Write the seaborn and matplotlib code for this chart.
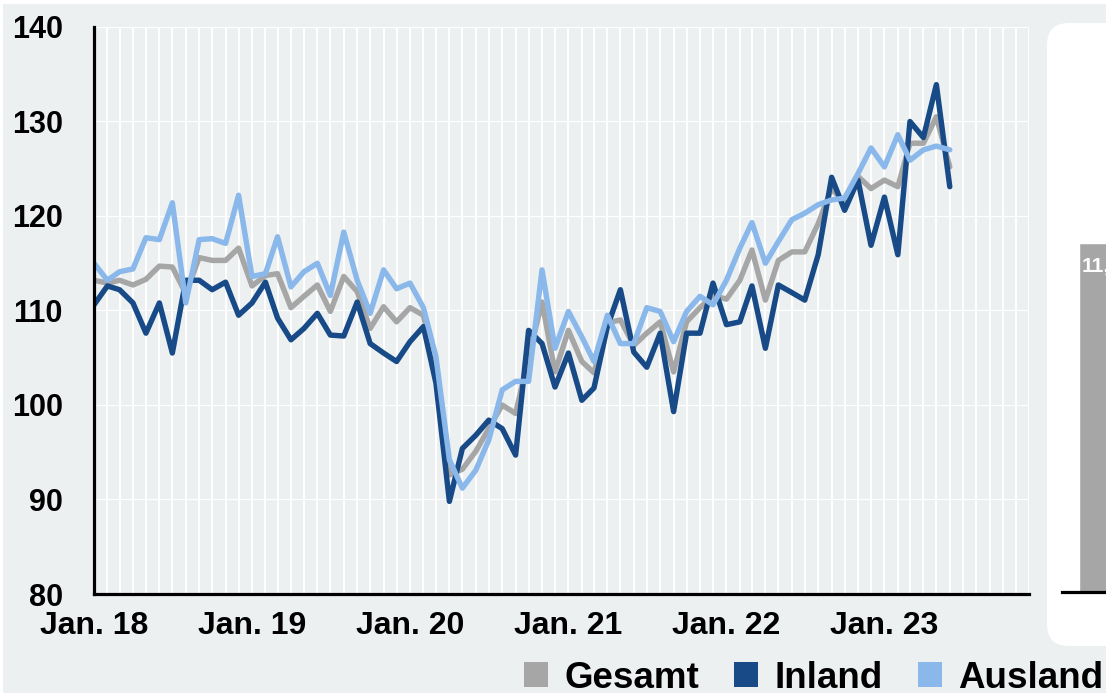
import numpy as np
import pandas as pd
import seaborn as sns
from matplotlib import pyplot as plt
from matplotlib.patches import Patch, FancyBboxPatch, Rectangle
import matplotlib.dates as mdates

# monthly index values, Jan 2018 - Jun 2023
months = pd.date_range('2018-01-01', periods=66, freq='MS')

gesamt = [113.2, 112.9, 113.2, 112.7, 113.3, 114.7, 114.6, 111.8, 115.6, 115.3, 115.3, 116.6,
          112.6, 113.7, 113.9, 110.3, 111.5, 112.7, 109.9, 113.6, 112.0, 108.1, 110.4, 108.8,
          110.3, 109.5, 103.7, 92.6, 93.2, 95.1, 97.5, 100.0, 99.1, 105.1, 110.9, 103.5,
          107.9, 104.6, 103.4, 108.7, 109.0, 106.3, 107.6, 108.8, 103.5, 108.8, 110.3, 111.6,
          111.2, 113.2, 116.4, 111.1, 115.3, 116.2, 116.2, 119.2, 122.9, 121.4, 124.2, 122.9,
          123.8, 123.1, 127.7, 127.7, 130.5, 125.2]
inland = [110.6, 112.6, 112.2, 110.8, 107.6, 110.8, 105.5, 113.2, 113.2, 112.2, 113.0, 109.5,
          110.8, 113.0, 109.2, 106.9, 108.1, 109.7, 107.4, 107.3, 110.9, 106.5, 105.5, 104.6,
          106.7, 108.3, 102.3, 89.8, 95.4, 96.8, 98.4, 97.5, 94.7, 107.9, 106.5, 101.9,
          105.5, 100.5, 101.8, 108.3, 112.2, 105.6, 104.0, 107.6, 99.3, 107.6, 107.6, 112.9,
          108.5, 108.8, 112.6, 106.0, 112.7, 111.9, 111.1, 115.9, 124.1, 120.6, 123.8, 116.9,
          122.0, 115.9, 130.0, 128.3, 133.9, 123.1]
ausland = [115.0, 113.2, 114.1, 114.4, 117.7, 117.5, 121.4, 110.8, 117.5, 117.6, 117.1, 122.2,
           113.6, 113.9, 117.8, 112.5, 114.1, 115.0, 111.6, 118.3, 113.2, 109.7, 114.3, 112.3,
           112.9, 110.3, 105.1, 94.2, 91.2, 93.1, 96.3, 101.6, 102.5, 102.5, 114.3, 106.0,
           109.9, 107.2, 104.6, 109.5, 106.5, 106.5, 110.3, 109.9, 106.7, 109.9, 111.5, 110.6,
           113.2, 116.6, 119.3, 115.0, 117.3, 119.6, 120.3, 121.2, 121.7, 121.9, 124.5, 127.2,
           125.2, 128.6, 125.9, 127.0, 127.4, 127.0]

series_names = ['Gesamt', 'Inland', 'Ausland']
colors = {'Gesamt': '#A6A6A6', 'Inland': '#174A87', 'Ausland': '#8AB8EA'}

bar_label = ['Gesamt']
bar_value = [11.8]

bg = '#ECF0F1'

df = pd.concat([
    pd.DataFrame({'date': months, 'value': gesamt, 'series': 'Gesamt'}),
    pd.DataFrame({'date': months, 'value': inland, 'series': 'Inland'}),
    pd.DataFrame({'date': months, 'value': ausland, 'series': 'Ausland'}),
])

sns.set_theme(style='white')
plt.rcParams['font.family'] = ['Liberation Sans', 'DejaVu Sans']
plt.rcParams['font.weight'] = 'bold'
plt.rcParams['text.color'] = 'black'

W, H = 1106, 693
fig = plt.figure(figsize=(W / 100, H / 100), dpi=100, facecolor='white')

# grey page background
fig.patches.append(Rectangle((0.03, -0.1), 12, 6.99, transform=fig.dpi_scale_trans,
                             facecolor=bg, edgecolor='none', zorder=-10))
# white side panel
fig.patches.append(FancyBboxPatch((10.47, 0.47), 3.0, 6.23,
                                  boxstyle='round,pad=0,rounding_size=0.22',
                                  transform=fig.dpi_scale_trans,
                                  facecolor='white', edgecolor='none', zorder=-9))

ax = fig.add_axes([94 / W, 1 - 594 / H, (1029 - 94) / W, (594 - 27) / H])
ax.set_facecolor(bg)

sns.lineplot(data=df, x='date', y='value', hue='series', hue_order=series_names,
             palette=colors, linewidth=3.9, legend=False, ax=ax)

ax.set_xlim(pd.Timestamp('2018-01-01'), pd.Timestamp('2023-12-01'))
ax.set_ylim(80, 140)
ax.set_yticks(range(80, 141, 10))

years = list(range(2018, 2024))
ax.set_xticks([pd.Timestamp(f'{y}-01-01') for y in years])
ax.set_xticklabels([f'Jan. {y % 100}' for y in years])
ax.xaxis.set_minor_locator(mdates.MonthLocator())

ax.grid(axis='x', which='both', color='white', linewidth=1.5)
ax.grid(axis='y', which='major', color='white', linewidth=0.9)
ax.set_axisbelow(True)

for s in ['top', 'right']:
    ax.spines[s].set_visible(False)
for s in ['left', 'bottom']:
    ax.spines[s].set_color('black')
    ax.spines[s].set_linewidth(2.3)

ax.tick_params(axis='y', which='major', direction='out', length=8.5, width=2.2,
               color='black', labelcolor='black', labelsize=22, pad=14)
ax.tick_params(axis='x', which='major', direction='out', length=8, width=2.2,
               color='black', labelcolor='black', labelsize=23, pad=4)
ax.tick_params(axis='x', which='minor', length=0)
for lab in ax.get_xticklabels() + ax.get_yticklabels():
    lab.set_fontweight('bold')
ax.set_xlabel('')
ax.set_ylabel('')

# side bar panel
ax2 = fig.add_axes([1062 / W, 1 - 592 / H, 138 / W, (592 - 27) / H])
ax2.patch.set_alpha(0)
sns.barplot(x=bar_label, y=bar_value, color=colors['Gesamt'], saturation=1, width=0.8, ax=ax2)
ax2.set_xlim(-0.6, 1.0)
ax2.set_ylim(0, 19.1)
for s in ['top', 'right', 'left']:
    ax2.spines[s].set_visible(False)
ax2.spines['bottom'].set_color('black')
ax2.spines['bottom'].set_linewidth(2.3)
ax2.set_xticks([])
ax2.set_yticks([])
ax2.set_xlabel('')
ax2.set_ylabel('')
ax2.annotate('11,8', xy=(-0.37, bar_value[0]), xytext=(0, -10), textcoords='offset points',
             ha='left', va='top', color='white', fontsize=15, fontweight='bold')

handles = [Patch(facecolor=colors[n], edgecolor='none', label=n) for n in series_names]
leg = fig.legend(handles=handles, loc='center left', bbox_to_anchor=(524 / W, 1 - 678 / H),
                 ncol=3, frameon=False, fontsize=26.5, handlelength=0.65, handleheight=0.65,
                 handletextpad=0.45, columnspacing=0.95, borderpad=0, borderaxespad=0)
for t in leg.get_texts():
    t.set_fontweight('bold')
    t.set_color('black')

fig.savefig('out.png', dpi=100, facecolor='white')
